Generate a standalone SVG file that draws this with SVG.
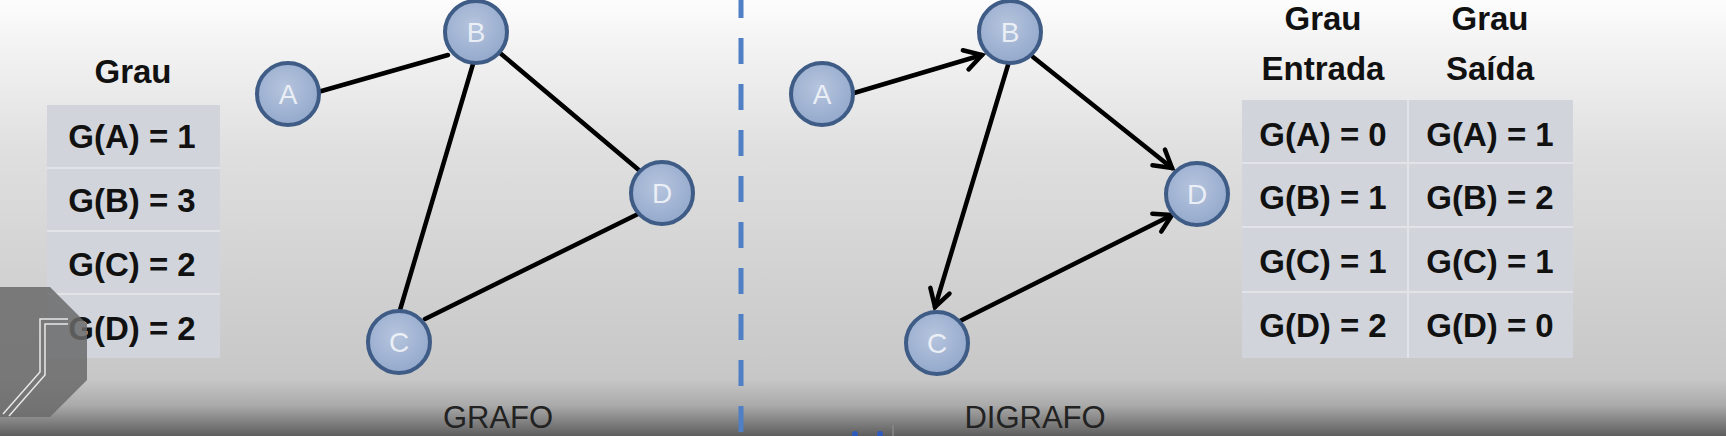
<svg xmlns="http://www.w3.org/2000/svg" width="1726" height="436" viewBox="0 0 1726 436">
<defs>
<linearGradient id="bg" x1="0" y1="0" x2="0" y2="1">
<stop offset="0" stop-color="#fdfdfd"/>
<stop offset="0.07" stop-color="#f6f6f6"/>
<stop offset="0.35" stop-color="#dfdfdf"/>
<stop offset="0.87" stop-color="#c7c7c7"/>
<stop offset="0.93" stop-color="#aaaaaa"/>
<stop offset="1" stop-color="#5e5e5e"/>
</linearGradient>
<radialGradient id="nodefill" cx="0.45" cy="0.4" r="0.6">
<stop offset="0" stop-color="#b6c5de"/>
<stop offset="1" stop-color="#94a9cc"/>
</radialGradient>
<marker id="arrow" markerUnits="userSpaceOnUse" markerWidth="40" markerHeight="40" refX="0" refY="0" orient="auto" overflow="visible">
<path d="M -17 -10 L 0 0 L -17 10" fill="none" stroke="#000" stroke-width="4.5" stroke-linecap="round" stroke-linejoin="miter"/>
</marker>
</defs>
<style>
.node circle { fill: url(#nodefill); stroke: #3f5c86; stroke-width: 4; }
.node text { font-family: "Liberation Sans", Arial, sans-serif; font-size: 28px; fill: #ffffff; fill-opacity: 0.75; text-anchor: middle; }
.edge { stroke: #000; stroke-width: 4.5; fill: none; stroke-linecap: round; }
.tbl { fill: #d1d5db; }
.sep { stroke: #e1e3e7; stroke-width: 2; }
.t { font-family: "Liberation Sans", Arial, sans-serif; font-weight: bold; font-size: 33px; fill: #111111; text-anchor: middle; }
.cap { font-family: "Liberation Sans", Arial, sans-serif; font-size: 31px; fill: #222222; text-anchor: middle; }
</style>

<rect x="0" y="0" width="1726" height="436" fill="url(#bg)"/>

<!-- left degree table -->
<g id="table-grau">
<text class="t" x="133" y="83">Grau</text>
<rect class="tbl" x="47" y="105" width="173" height="253"/>
<line class="sep" x1="47" y1="168" x2="220" y2="168"/>
<line class="sep" x1="47" y1="231" x2="220" y2="231"/>
<line class="sep" x1="47" y1="294" x2="220" y2="294"/>
<text class="t" x="132" y="148">G(A) = 1</text>
<text class="t" x="132" y="212">G(B) = 3</text>
<text class="t" x="132" y="276">G(C) = 2</text>
<text class="t" x="132" y="340">G(D) = 2</text>
</g>

<!-- divider -->
<line x1="741" y1="0" x2="741" y2="436" stroke="#4f7fc4" stroke-width="5" stroke-dasharray="26 20" stroke-dashoffset="8"/>

<!-- connectors -->
<g id="connectors">
<line class="edge" x1="318" y1="92" x2="448" y2="55"/>
<line class="edge" x1="473" y1="64" x2="400" y2="310"/>
<line class="edge" x1="500" y1="53" x2="640" y2="171"/>
<line class="edge" x1="425" y1="319" x2="638" y2="214"/>
<line class="edge" x1="854" y1="93" x2="982" y2="55" marker-end="url(#arrow)"/>
<line class="edge" x1="1033" y1="57" x2="1172" y2="168" marker-end="url(#arrow)"/>
<line class="edge" x1="1008" y1="65" x2="935" y2="307" marker-end="url(#arrow)"/>
<line class="edge" x1="958" y1="322" x2="1172" y2="215" marker-end="url(#arrow)"/>
</g>

<!-- graph nodes -->
<g id="g-A" class="node"><circle cx="288" cy="94" r="31"/><text x="288" y="104">A</text></g>
<g id="g-B" class="node"><circle cx="476" cy="32" r="31"/><text x="476" y="42">B</text></g>
<g id="g-D" class="node"><circle cx="662" cy="193" r="31"/><text x="662" y="203">D</text></g>
<g id="g-C" class="node"><circle cx="399" cy="342" r="31"/><text x="399" y="352">C</text></g>
<text id="label-grafo" class="cap" x="498" y="428">GRAFO</text>

<!-- digraph nodes -->
<g id="d-A" class="node"><circle cx="822" cy="94" r="31"/><text x="822" y="104">A</text></g>
<g id="d-B" class="node"><circle cx="1010" cy="32" r="31"/><text x="1010" y="42">B</text></g>
<g id="d-D" class="node"><circle cx="1197" cy="194" r="31"/><text x="1197" y="204">D</text></g>
<g id="d-C" class="node"><circle cx="937" cy="343" r="31"/><text x="937" y="353">C</text></g>
<text id="label-digrafo" class="cap" x="1035" y="428">DIGRAFO</text>

<!-- right degree table -->
<g id="table-entrada-saida">
<text class="t" x="1323" y="30">Grau</text>
<text class="t" x="1323" y="80">Entrada</text>
<text class="t" x="1490" y="30">Grau</text>
<text class="t" x="1490" y="80">Saída</text>
<rect class="tbl" x="1242" y="100" width="331" height="258"/>
<line class="sep" x1="1408" y1="100" x2="1408" y2="358"/>
<line class="sep" x1="1242" y1="163" x2="1573" y2="163"/>
<line class="sep" x1="1242" y1="227" x2="1573" y2="227"/>
<line class="sep" x1="1242" y1="292" x2="1573" y2="292"/>
<text class="t" x="1323" y="146">G(A) = 0</text>
<text class="t" x="1323" y="209">G(B) = 1</text>
<text class="t" x="1323" y="273">G(C) = 1</text>
<text class="t" x="1323" y="337">G(D) = 2</text>
<text class="t" x="1490" y="146">G(A) = 1</text>
<text class="t" x="1490" y="209">G(B) = 2</text>
<text class="t" x="1490" y="273">G(C) = 1</text>
<text class="t" x="1490" y="337">G(D) = 0</text>
</g>

<!-- watermark logo bottom-left -->
<g id="logo">
<polygon points="0,287 50,287 87,324 87,380 50,417 0,417" fill="#6a6a6a" fill-opacity="0.85"/>
<path d="M 68 319 L 40 319 L 40 372 L 3 414" fill="none" stroke="#e8e8e8" stroke-width="1.5"/>
<path d="M 68 324 L 45 324 L 45 375 L 9 416" fill="none" stroke="#e8e8e8" stroke-width="1.5"/>
</g>

<!-- partial player icon at bottom -->
<g id="icon">
<circle cx="855" cy="434" r="3" fill="#2d5bbf"/>
<circle cx="880" cy="434" r="3" fill="#2d5bbf"/>
<line x1="893" y1="425" x2="893" y2="436" stroke="#888" stroke-width="1.5"/>
</g>
</svg>
